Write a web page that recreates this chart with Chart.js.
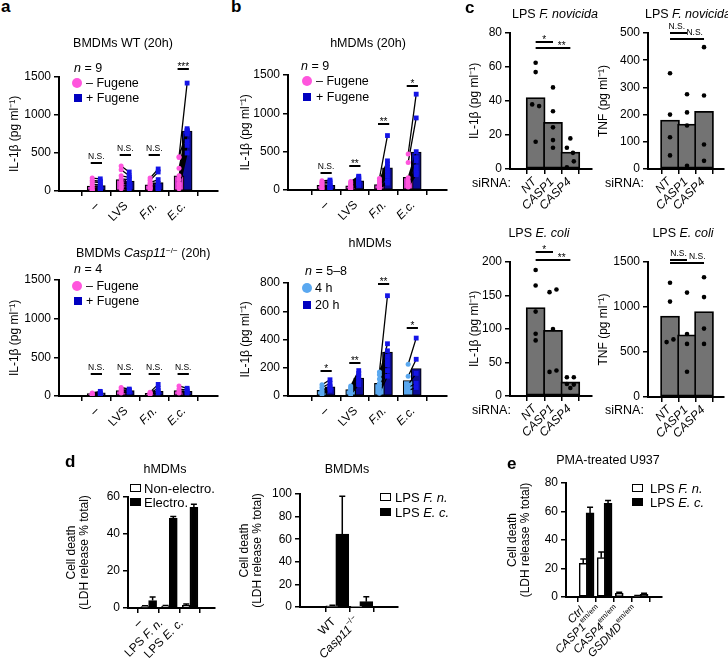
<!DOCTYPE html>
<html>
<head>
<meta charset="utf-8">
<script src="https://cdn.jsdelivr.net/npm/chart.js@4.4.1/dist/chart.umd.min.js"></script>
<style>
  body { margin: 0; width: 728px; height: 662px; position: relative; overflow: hidden; background: #fff;
         font-family: "Liberation Sans", Arial, Helvetica, sans-serif; color: #000; }
  canvas { position: absolute; }
  .t { position: absolute; white-space: nowrap; line-height: 1; }
  .m { position: absolute; box-sizing: border-box; }
  sup { font-size: 0.65em; vertical-align: 0.5em; line-height: 0; }
</style>
</head>
<body>
<script>
const FAM = '"Liberation Sans", Arial, Helvetica, sans-serif';
Chart.defaults.font.family = FAM;
Chart.defaults.font.size = 12;
Chart.defaults.color = '#000';
Chart.defaults.animation = false;

// ---------- data ----------
// a / b: IL-1β per stimulus, one value per donor (paired)
const stimCats = ['–', 'LVS', '*F.n.*', '*E.c.*'];

const wtMinusPts = [[170, 140, 120, 90, 60, 40, 20, 10, 5], [330, 280, 200, 160, 120, 100, 80, 50, 30],
                    [170, 140, 110, 90, 70, 50, 40, 30, 20], [450, 440, 300, 200, 150, 100, 80, 50, 30]];
const wtPlusPts  = [[160, 130, 110, 80, 60, 40, 30, 20, 10], [250, 200, 180, 150, 120, 100, 70, 50, 30],
                    [290, 250, 150, 100, 60, 50, 40, 30, 20], [1420, 820, 800, 790, 780, 750, 650, 600, 500]];
const wtMinusBar = [65, 150, 80, 200];
const wtPlusBar  = [70, 130, 110, 790];
const wtSig  = ['N.S.', 'N.S.', 'N.S.', '***'];
const wtSigY = [370, 475, 475, 1600];

const koMinusPts = [[40, 30, 20, 10], [110, 80, 60, 40], [50, 40, 30, 20], [130, 90, 60, 40]];
const koPlusPts  = [[60, 40, 30, 20], [90, 80, 70, 50], [150, 100, 70, 40], [100, 80, 60, 40]];
const koMinusBar = [30, 70, 35, 70];
const koPlusBar  = [40, 70, 60, 60];
const koSig  = ['N.S.', 'N.S.', 'N.S.', 'N.S.'];
const koSigY = [290, 290, 290, 290];

const hMinusPts = [[120, 100, 90, 70, 60, 40, 30, 20, 10], [110, 90, 80, 60, 50, 40, 30, 20, 10],
                   [150, 120, 90, 70, 60, 50, 40, 30, 20], [470, 360, 160, 120, 100, 80, 60, 50, 40]];
const hPlusPts  = [[130, 110, 90, 60, 50, 40, 30, 20, 10], [180, 170, 150, 130, 120, 100, 90, 80, 60],
                   [710, 380, 340, 300, 260, 220, 180, 120, 90], [1250, 940, 500, 420, 380, 300, 250, 220, 200]];
const hMinusBar = [60, 55, 70, 165];
const hPlusBar  = [60, 118, 290, 495];
const hSig  = ['N.S.', '**', '**', '*'];
const hSigY = [220, 310, 860, 1356];

const h4Pts  = [[80, 60, 40, 30, 20, 10], [70, 60, 50, 40, 30, 20, 10], [170, 150, 120, 90, 70, 50, 30, 20], [225, 140, 80, 60, 40]];
const h20Pts = [[115, 90, 70, 60, 50, 40], [180, 160, 140, 120, 110, 90, 80], [710, 370, 320, 280, 250, 220, 180, 140], [410, 260, 160, 90, 60]];
const h4Bar  = [40, 45, 90, 110];
const h20Bar = [65, 127, 311, 195];
const htSig  = ['*', '**', '**', '*'];
const htSigY = [177, 234, 793, 481];

// c: siRNA knockdown, bars + single replicates
const siCats = ['*NT*', '*CASP1*', '*CASP4*'];
const fnIlBar = [42, 27.5, 10];
const fnIlPts = [[62.5, 57, 38, 37, 16], [48, 34, 24.5, 17, 12.5], [18, 12.5, 9.5, 4.5, 1]];
const fnIlJit = [[0, 0, -0.2, 0.2, 0], [0, 0, 0, 0, 0], [0, -0.2, 0.15, 0.2, -0.2]];
const fnTnfBar = [180, 165, 212];
const fnTnfPts = [[352, 200, 117, 50], [275, 208, 160, 12], [448, 270, 90, 30]];
const ecIlBar = [132, 98, 21];
const ecIlPts = [[188, 165, 126, 93, 83], [159, 155, 100, 38, 36], [28, 28, 18, 17, 12]];
const ecIlJit = [[0, 0, 0, 0, 0], [0.2, -0.2, 0, 0.2, -0.2], [-0.2, 0.2, -0.2, 0.2, 0]];
const ecTnfBar = [900, 690, 950];
const ecTnfPts = [[1270, 1060, 640, 610], [1160, 700, 590, 280], [1330, 1110, 760, 590]];
const ecTnfJit = [[0, 0, 0.2, -0.2], [0, 0, 0, 0], [0, 0, 0, 0]];

// d: LDH release
const dhCats = ['–', 'LPS *F. n.*', 'LPS *E. c.*'];
const dhNon = [0.8, 1, 1.5],  dhNonErr = [0.4, 0.3, 0.6];
const dhEl  = [4, 48.5, 54.4], dhElErr  = [2, 1, 1.7];
const dmCats = ['WT', '*Casp11*^{−/−}'];
const dmFn = [1, 0.3], dmFnErr = [0.6, 0];
const dmEc = [64.5, 4.7], dmEcErr = [33.5, 4.3];

// e: PMA-treated U937
const uCats = ['*Ctrl*', '*CASP1*^{em/em}', '*CASP4*^{em/em}', '*GSDMD*^{em/em}'];
const uFn = [23.6, 27.6, 2.5, 0.5], uFnErr = [3, 4, 0.8, 0.5];
const uEc = [59, 65.7, 0.3, 1.8],   uEcErr = [4, 2, 0, 0.8];

// ---------- helpers ----------
function segs(s) {
  return s.split(/(\*[^*]+\*|\^\{[^}]+\})/).filter(Boolean).map(p =>
    p[0] === '*' ? { t: p.slice(1, -1), i: true } :
    p[0] === '^' ? { t: p.slice(2, -1), sup: true } : { t: p });
}

function drawRich(ctx, parts, size) {
  let w = 0;
  const m = parts.map(p => {
    const fs = p.sup ? size * 0.65 : size;
    const f = (p.i ? 'italic ' : '') + fs + 'px ' + FAM;
    ctx.font = f;
    const mw = ctx.measureText(p.t).width;
    w += mw;
    return { f, mw, p };
  });
  let cx = -w;
  m.forEach(q => {
    ctx.font = q.f;
    ctx.fillText(q.p.t, cx, q.p.sup ? -size * 0.4 : 0);
    cx += q.mw;
  });
}

function extras(o) {
  return {
    id: 'extras',
    afterDatasetsDraw(chart) {
      const { ctx, chartArea } = chart;
      const x = chart.scales.x, y = chart.scales.y;
      ctx.save();
      ctx.fillStyle = '#000';
      ctx.strokeStyle = '#000';
      // error bars (upper only)
      chart.data.datasets.forEach((ds, di) => {
        if (!ds.errors) return;
        chart.getDatasetMeta(di).data.forEach((el, i) => {
          const e = ds.errors[i];
          if (!e) return;
          const top = y.getPixelForValue(ds.data[i].y + e);
          ctx.lineWidth = 1.5;
          ctx.beginPath();
          ctx.moveTo(el.x, el.y);
          ctx.lineTo(el.x, top);
          ctx.moveTo(el.x - 3, top);
          ctx.lineTo(el.x + 3, top);
          ctx.stroke();
        });
      });
      // significance bars
      (o.sig || []).forEach(s => {
        const py = Math.round(y.getPixelForValue(s.y));
        ctx.lineWidth = 2;
        ctx.beginPath();
        ctx.moveTo(x.getPixelForValue(s.x1), py);
        ctx.lineTo(x.getPixelForValue(s.x2), py);
        ctx.stroke();
        const star = s.t[0] === '*';
        ctx.font = (star ? 10 : 8.5) + 'px ' + FAM;
        ctx.textAlign = 'center';
        ctx.textBaseline = 'alphabetic';
        const tx = x.getPixelForValue(s.tx !== undefined ? s.tx : (s.x1 + s.x2) / 2);
        ctx.fillText(s.t, tx, star ? py + 1 : py - 4);
      });
      // rotated category labels
      ctx.textAlign = 'left';
      ctx.textBaseline = 'middle';
      o.labels.forEach((lab, i) => {
        ctx.save();
        ctx.translate(x.getPixelForValue(i) + o.lx, chartArea.bottom + o.ly);
        ctx.rotate(-Math.PI / 4);
        drawRich(ctx, segs(lab), o.lfs || 12);
        ctx.restore();
      });
      ctx.restore();
    }
  };
}

function makeChart(box, yMax, yTicks, yTitle, labels, datasets, sig) {
  const mT = 30, mB = box.mB || 48, mR = box.mR !== undefined ? box.mR : 8;
  const cv = document.createElement('canvas');
  const top = box.yT - mT;
  cv.width = box.x1 + mR - box.left;
  cv.height = box.y0 + mB - top;
  cv.style.left = box.left + 'px';
  cv.style.top = top + 'px';
  document.body.appendChild(cv);
  const line = { color: '#000', width: 2 };
  return new Chart(cv, {
    type: 'bar',
    data: { datasets },
    options: {
      responsive: false,
      devicePixelRatio: 1,
      events: [],
      layout: { padding: { top: mT, right: mR, left: 0, bottom: 0 } },
      plugins: { legend: { display: false }, tooltip: { enabled: false } },
      scales: {
        x: {
          type: 'linear', min: box.xmin, max: box.xmax,
          afterBuildTicks: s => { s.ticks = labels.map((_, i) => ({ value: i })); },
          afterFit: s => { s.height = mB; },
          ticks: { display: false },
          grid: { drawOnChartArea: false, tickLength: 5, color: '#000', lineWidth: 1.5 },
          border: line
        },
        y: {
          type: 'linear', min: 0, max: yMax,
          afterBuildTicks: s => { s.ticks = yTicks.map(v => ({ value: v })); },
          afterFit: s => { s.width = box.x0 - box.left; },
          ticks: { color: '#000', font: { size: 12 }, padding: 3, callback: v => String(v) },
          grid: { drawOnChartArea: false, tickLength: 5, color: '#000', lineWidth: 1.5 },
          border: line,
          title: { display: true, text: yTitle, color: '#000', font: { size: 12, lineHeight: 1.1 }, padding: 0 }
        }
      }
    },
    plugins: [extras({ labels, sig, lx: box.lx, ly: box.ly, lfs: box.lfs })]
  });
}

function pairedSets(minusPts, plusPts, minusBar, plusBar, col) {
  const off = 0.14;
  const links = [];
  minusPts.forEach((arr, i) => arr.forEach((v, k) => {
    links.push({ x: i - off, y: v }, { x: i + off, y: plusPts[i][k] }, { x: i, y: null });
  }));
  const bar = (vals, dx, c) => ({
    type: 'bar', data: vals.map((v, i) => ({ x: i + dx, y: v })), backgroundColor: c,
    borderColor: '#000', borderWidth: 1.2, borderSkipped: false, barThickness: 10, grouped: false, order: 3
  });
  const pts = (arr, dx, c, style, r) => ({
    type: 'scatter', data: arr.flatMap((a, i) => a.map(v => ({ x: i + dx, y: v }))),
    pointStyle: style, pointRadius: r, backgroundColor: c, borderWidth: 0, order: 1
  });
  return [
    bar(minusBar, -off, col.barA), bar(plusBar, off, col.barB),
    { type: 'line', data: links, borderColor: '#000', borderWidth: 1.3, pointRadius: 0, spanGaps: false, order: 2 },
    pts(minusPts, -off, col.ptA, 'circle', 2.5),
    pts(plusPts, off, col.ptB, 'rect', 3.4)
  ];
}

function pairedSig(texts, ys) {
  return texts.map((t, i) => ({ x1: i - 0.19, x2: i + 0.2, y: ys[i], t }));
}

function dotSets(bars, pts, jit) {
  return [
    { type: 'bar', data: bars.map((v, i) => ({ x: i, y: v })), backgroundColor: '#737373', borderColor: '#000',
      borderWidth: 1.8, borderSkipped: false, barThickness: 19, grouped: false, order: 2 },
    { type: 'scatter', data: pts.flatMap((a, i) => a.map((v, k) => ({ x: i + (jit ? jit[i][k] : 0), y: v }))),
      pointRadius: 2.3, backgroundColor: '#000', borderWidth: 0, order: 1 }
  ];
}

function errSets(a, aErr, b, bErr, offA, offB, w) {
  const bar = (vals, errs, dx, c) => ({
    type: 'bar', data: vals.map((v, i) => ({ x: i + dx, y: v })), errors: errs, backgroundColor: c,
    borderColor: '#000', borderWidth: 1.5, borderSkipped: false, barThickness: w, grouped: false
  });
  return [bar(a, aErr, offA, '#fff'), bar(b, bErr, offB, '#000')];
}

function txt(html, x, y, o = {}) {
  const d = document.createElement('div');
  d.className = 't';
  d.innerHTML = html;
  d.style.left = x + 'px';
  d.style.top = y + 'px';
  d.style.fontSize = (o.fs || 12.5) + 'px';
  if (o.b) d.style.fontWeight = 'bold';
  d.style.transform = o.c ? 'translate(-50%,-50%)' : 'translateY(-50%)';
  document.body.appendChild(d);
}

function mark(x, y, w, h, bg, round, border) {
  const d = document.createElement('div');
  d.className = 'm';
  Object.assign(d.style, { left: x + 'px', top: y + 'px', width: w + 'px', height: h + 'px', background: bg,
    borderRadius: round ? '50%' : '0', border: border || 'none' });
  document.body.appendChild(d);
}

// ---------- charts ----------
const IL = 'IL-1β (pg ml⁻¹)';
const TNF = 'TNF (pg ml⁻¹)';
const LDH = ['Cell death', '(LDH release % total)'];
const fug = { barA: '#cf3bc6', barB: '#0c0c98', ptA: '#ff55dd', ptB: '#1414e6' };
const tim = { barA: '#5aa8f0', barB: '#0c0c98', ptA: '#5aa8f0', ptB: '#1414e6' };

makeChart({ left: 8, x0: 59, x1: 218, yT: 77, y0: 191, xmin: -0.6, xmax: 3.52, lx: 1, ly: 13 },
  1500, [0, 500, 1000, 1500], IL, stimCats,
  pairedSets(wtMinusPts, wtPlusPts, wtMinusBar, wtPlusBar, fug), pairedSig(wtSig, wtSigY));
makeChart({ left: 8, x0: 59, x1: 218, yT: 280, y0: 396, xmin: -0.6, xmax: 3.52, lx: 1, ly: 13 },
  1500, [0, 500, 1000, 1500], IL, stimCats,
  pairedSets(koMinusPts, koPlusPts, koMinusBar, koPlusBar, fug), pairedSig(koSig, koSigY));
makeChart({ left: 239, x0: 288, x1: 447, yT: 75, y0: 190, xmin: -0.63, xmax: 3.52, lx: 1, ly: 13 },
  1500, [0, 500, 1000, 1500], IL, stimCats,
  pairedSets(hMinusPts, hPlusPts, hMinusBar, hPlusBar, fug), pairedSig(hSig, hSigY));
makeChart({ left: 239, x0: 288, x1: 447, yT: 283, y0: 396, xmin: -0.63, xmax: 3.52, lx: 1, ly: 13 },
  800, [0, 200, 400, 600, 800], IL, stimCats,
  pairedSets(h4Pts, h20Pts, h4Bar, h20Bar, tim), pairedSig(htSig, htSigY));

makeChart({ left: 468, x0: 510, x1: 592, yT: 33, y0: 169, xmin: -0.69, xmax: 2.46, lx: -1, ly: 11 },
  80, [0, 20, 40, 60, 80], IL, siCats, dotSets(fnIlBar, fnIlPts, fnIlJit),
  [{ x1: 0, x2: 1, y: 75, t: '*' }, { x1: 0, x2: 2, y: 71, t: '**', tx: 1.5 }]);
makeChart({ left: 597, x0: 648, x1: 724, yT: 33, y0: 169, xmin: -0.55, xmax: 2.43, lx: -1, ly: 11, mR: 4 },
  500, [0, 100, 200, 300, 400, 500], TNF, siCats, dotSets(fnTnfBar, fnTnfPts, null),
  [{ x1: 0, x2: 1, y: 500, t: 'N.S.', tx: 0.4 }, { x1: 0, x2: 2, y: 478, t: 'N.S.', tx: 1.45 }]);
makeChart({ left: 468, x0: 510, x1: 592, yT: 262, y0: 396, xmin: -0.69, xmax: 2.46, lx: -1, ly: 11 },
  200, [0, 50, 100, 150, 200], IL, siCats, dotSets(ecIlBar, ecIlPts, ecIlJit),
  [{ x1: 0, x2: 1, y: 215, t: '*' }, { x1: 0, x2: 2, y: 203, t: '**', tx: 1.5 }]);
makeChart({ left: 597, x0: 648, x1: 724, yT: 262, y0: 397, xmin: -0.55, xmax: 2.43, lx: -1, ly: 11, mR: 4 },
  1500, [0, 500, 1000, 1500], TNF, siCats, dotSets(ecTnfBar, ecTnfPts, ecTnfJit),
  [{ x1: 0, x2: 1, y: 1522, t: 'N.S.' }, { x1: 0, x2: 2, y: 1492, t: 'N.S.', tx: 1.6 }]);

makeChart({ left: 65, x0: 128, x1: 215, yT: 497, y0: 608, xmin: -0.29, xmax: 2.52, lx: -8, ly: 13, mB: 60 },
  60, [0, 20, 40, 60], LDH, dhCats, errSets(dhNon, dhNonErr, dhEl, dhElErr, -0.17, 0.2, 8), []);
makeChart({ left: 238, x0: 300, x1: 398, yT: 494, y0: 607, xmin: -0.56, xmax: 1.48, lx: -4, ly: 13, mB: 60 },
  100, [0, 20, 40, 60, 80, 100], LDH, dmCats, errSets(dmFn, dmFnErr, dmEc, dmEcErr, -0.23, 0.18, 13), []);
makeChart({ left: 506, x0: 566, x1: 662, yT: 483, y0: 597, xmin: -0.46, xmax: 3.54, lx: -4, ly: 12, mB: 62, lfs: 11.5 },
  80, [0, 20, 40, 60, 80], LDH, uCats, errSets(uFn, uFnErr, uEc, uEcErr, -0.17, 0.21, 8), []);

// ---------- titles, legends, panel letters ----------
txt('a', 1, 6, { b: true, fs: 17 });
txt('b', 231, 6, { b: true, fs: 17 });
txt('c', 465, 7, { b: true, fs: 17 });
txt('d', 65, 461, { b: true, fs: 17 });
txt('e', 507, 463, { b: true, fs: 17 });

txt('BMDMs WT (20h)', 123, 43, { c: true });
txt('<i>n</i> = 9', 74, 68);
mark(72, 78, 10, 10, fug.ptA, true); txt('– Fugene', 86, 83);
mark(74, 94, 8, 8, '#0000c0'); txt('+ Fugene', 86, 98);

txt('BMDMs <i>Casp11</i><sup>−/−</sup> (20h)', 76, 253);
txt('<i>n</i> = 4', 74, 269);
mark(72, 281, 10, 10, fug.ptA, true); txt('– Fugene', 86, 286);
mark(74, 297, 8, 8, '#0000c0'); txt('+ Fugene', 86, 301);

txt('hMDMs (20h)', 368, 43, { c: true });
txt('<i>n</i> = 9', 301, 66);
mark(302, 76, 10, 10, fug.ptA, true); txt('– Fugene', 316, 81);
mark(303, 93, 8, 8, '#0000c0'); txt('+ Fugene', 316, 97);

txt('hMDMs', 370, 243, { c: true });
txt('<i>n</i> = 5–8', 305, 271);
mark(302, 283, 10, 10, tim.ptA, true); txt('4 h', 315, 288);
mark(303, 301, 8, 8, '#0000c0'); txt('20 h', 315, 305);

txt('LPS <i>F. novicida</i>', 555, 14, { c: true });
txt('LPS <i>F. novicida</i>', 645, 14);
txt('LPS <i>E. coli</i>', 539, 233, { c: true });
txt('LPS <i>E. coli</i>', 683, 233, { c: true });
txt('siRNA:', 472, 183);
txt('siRNA:', 605, 183);
txt('siRNA:', 472, 410);
txt('siRNA:', 605, 410);

txt('hMDMs', 165, 469, { c: true });
mark(130, 484, 11, 8, '#fff', false, '1.5px solid #000'); txt('Non-electro.', 144, 488, { fs: 13 });
mark(130, 498, 11, 8, '#000'); txt('Electro.', 144, 502, { fs: 13 });

txt('BMDMs', 347, 469, { c: true });
mark(380, 493, 11, 8, '#fff', false, '1.5px solid #000'); txt('LPS <i>F. n.</i>', 395, 497, { fs: 13 });
mark(380, 508, 11, 8, '#000'); txt('LPS <i>E. c.</i>', 395, 512, { fs: 13 });

txt('PMA-treated U937', 608, 460, { c: true });
mark(632, 484, 11, 8, '#fff', false, '1.5px solid #000'); txt('LPS <i>F. n.</i>', 650, 488, { fs: 13 });
mark(632, 498, 11, 8, '#000'); txt('LPS <i>E. c.</i>', 650, 502, { fs: 13 });
</script>
</body>
</html>
